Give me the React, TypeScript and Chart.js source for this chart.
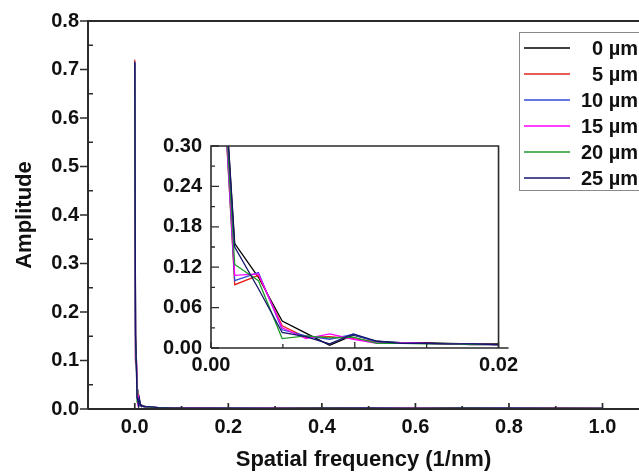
import React, { useEffect, useRef } from "react";
import { Chart, registerables } from "chart.js";
Chart.register(...registerables);

// ---------- data ----------
const FREQ = [0, 0.00165, 0.0033, 0.00495, 0.0066, 0.00825, 0.0099, 0.01155, 0.0132, 0.01485, 0.0165, 0.01815, 0.0198, 0.03, 0.05, 0.08, 0.12, 0.2, 0.3, 0.4, 0.5, 0.6, 0.7, 0.8, 0.9, 1.0];
const AMP_0UM = [0.712, 0.155, 0.105, 0.04, 0.022, 0.004, 0.019, 0.01, 0.008, 0.008, 0.007, 0.006, 0.006, 0.004, 0.003, 0.002, 0.002, 0.001, 0.002, 0.001, 0.002, 0.001, 0.002, 0.001, 0.002, 0.001];
const AMP_5UM = [0.72, 0.094, 0.108, 0.033, 0.016, 0.017, 0.014, 0.009, 0.007, 0.007, 0.006, 0.006, 0.005, 0.004, 0.003, 0.002, 0.002, 0.001, 0.001, 0.002, 0.001, 0.002, 0.001, 0.001, 0.002, 0.001];
const AMP_10UM = [0.715, 0.1, 0.112, 0.027, 0.018, 0.013, 0.02, 0.009, 0.008, 0.007, 0.006, 0.006, 0.005, 0.004, 0.003, 0.002, 0.001, 0.002, 0.001, 0.001, 0.002, 0.001, 0.001, 0.002, 0.001, 0.001];
const AMP_15UM = [0.714, 0.108, 0.11, 0.03, 0.014, 0.021, 0.013, 0.007, 0.008, 0.007, 0.006, 0.005, 0.005, 0.004, 0.003, 0.002, 0.002, 0.001, 0.002, 0.001, 0.001, 0.002, 0.001, 0.001, 0.001, 0.001];
const AMP_20UM = [0.713, 0.124, 0.1, 0.014, 0.018, 0.015, 0.016, 0.007, 0.007, 0.006, 0.006, 0.005, 0.005, 0.004, 0.003, 0.002, 0.001, 0.001, 0.001, 0.002, 0.001, 0.001, 0.002, 0.001, 0.001, 0.001];
const AMP_25UM = [0.716, 0.15, 0.088, 0.023, 0.017, 0.006, 0.021, 0.01, 0.007, 0.007, 0.006, 0.006, 0.005, 0.005, 0.003, 0.002, 0.002, 0.002, 0.001, 0.002, 0.002, 0.001, 0.002, 0.002, 0.001, 0.001];

const SERIES_LABELS = ["0 µm", "5 µm", "10 µm", "15 µm", "20 µm", "25 µm"];
const SERIES_VALUES = [AMP_0UM, AMP_5UM, AMP_10UM, AMP_15UM, AMP_20UM, AMP_25UM];
const SERIES_COLORS = ["#000000", "#e0251b", "#3348d8", "#ff00ff", "#1f9a2a", "#16166e"];

const MAIN_X_TICKS = [0, 0.2, 0.4, 0.6, 0.8, 1.0];
const MAIN_X_MINOR = [0.1, 0.3, 0.5, 0.7, 0.9];
const MAIN_Y_TICKS = [0, 0.1, 0.2, 0.3, 0.4, 0.5, 0.6, 0.7, 0.8];
const MAIN_Y_MINOR = [0.05, 0.15, 0.25, 0.35, 0.45, 0.55, 0.65, 0.75];
const INSET_X_TICKS = [0, 0.01, 0.02];
const INSET_X_MINOR = [0.005, 0.015];
const INSET_Y_TICKS = [0, 0.06, 0.12, 0.18, 0.24, 0.3];
const INSET_Y_MINOR = [0.03, 0.09, 0.15, 0.21, 0.27];

const FONT = "'Liberation Sans', Arial, Helvetica, sans-serif";
const AXIS_COLOR = "#2b2b2b";

function makeDatasets() {
  return SERIES_LABELS.map((label, i) => ({
    label,
    data: FREQ.map((x, k) => ({ x, y: SERIES_VALUES[i][k] })),
    borderColor: SERIES_COLORS[i],
    backgroundColor: SERIES_COLORS[i],
    borderWidth: 1.3,
    pointRadius: 0,
    tension: 0,
    order: i === 5 ? 0 : 6 - i,
  }));
}

type TickSpec = { major: number[]; minor: number[]; majorLen: number; minorLen: number; majorOut: boolean; minorOut: boolean };

function framePlugin(id: string, xs: TickSpec, ys: TickSpec, lw: number, drawRight: boolean) {
  return {
    id,
    beforeDraw(chart: any) {
      const { ctx, chartArea: a } = chart;
      ctx.save();
      ctx.fillStyle = "#ffffff";
      ctx.fillRect(a.left, a.top, a.right - a.left, a.bottom - a.top);
      ctx.restore();
    },
    afterDatasetsDraw(chart: any) {
      const { ctx, chartArea: a, scales } = chart;
      ctx.save();
      ctx.strokeStyle = AXIS_COLOR;
      ctx.lineWidth = lw;
      ctx.beginPath();
      ctx.moveTo(a.left, a.bottom);
      ctx.lineTo(a.left, a.top);
      ctx.lineTo(drawRight ? a.right : a.right + 10, a.top);
      if (drawRight) ctx.lineTo(a.right, a.bottom);
      ctx.moveTo(a.left, a.bottom);
      ctx.lineTo(a.right + 10, a.bottom);
      ctx.stroke();
      ctx.lineWidth = Math.max(1, lw - 0.3);
      ctx.beginPath();
      const xTick = (v: number, len: number, out: boolean) => {
        const p = scales.x.getPixelForValue(v);
        ctx.moveTo(p, a.bottom);
        ctx.lineTo(p, out ? a.bottom + len : a.bottom - len);
      };
      const yTick = (v: number, len: number, out: boolean) => {
        const p = scales.y.getPixelForValue(v);
        ctx.moveTo(a.left, p);
        ctx.lineTo(out ? a.left - len : a.left + len, p);
      };
      xs.major.forEach((v) => xTick(v, xs.majorLen, xs.majorOut));
      xs.minor.forEach((v) => xTick(v, xs.minorLen, xs.minorOut));
      ys.major.forEach((v) => yTick(v, ys.majorLen, ys.majorOut));
      ys.minor.forEach((v) => yTick(v, ys.minorLen, ys.minorOut));
      ctx.stroke();
      ctx.restore();
    },
  };
}

const legendPlugin = {
  id: "customLegend",
  afterDraw(chart: any) {
    const { ctx } = chart;
    ctx.save();
    const left = 519, top = 32, bottom = 190;
    ctx.strokeStyle = "#8a8a8a";
    ctx.lineWidth = 1;
    ctx.strokeRect(left + 0.5, top + 0.5, 200, bottom - top);
    ctx.font = `bold 20px ${FONT}`;
    ctx.textAlign = "right";
    ctx.textBaseline = "middle";
    SERIES_LABELS.forEach((lab, i) => {
      const y = 48 + i * 26;
      ctx.strokeStyle = SERIES_COLORS[i];
      ctx.lineWidth = 1.4;
      ctx.beginPath();
      ctx.moveTo(524, y);
      ctx.lineTo(570, y);
      ctx.stroke();
      ctx.fillStyle = "#111111";
      ctx.fillText(lab, 638, y + 1);
    });
    ctx.restore();
  },
};

function fmt(d: number) {
  return (v: any) => Number(v).toFixed(d);
}

export default function App() {
  const mainRef = useRef<HTMLCanvasElement>(null);
  const insetRef = useRef<HTMLCanvasElement>(null);

  useEffect(() => {
    const tickFont = { family: FONT, size: 20, weight: "bold" as const };
    const titleFont = { family: FONT, size: 22, weight: "bold" as const };

    const main = new Chart(mainRef.current!, {
      type: "line",
      data: { datasets: makeDatasets() as any },
      plugins: [framePlugin("mainFrame",
        { major: MAIN_X_TICKS, minor: MAIN_X_MINOR, majorLen: 6, minorLen: 3, majorOut: false, minorOut: false },
        { major: MAIN_Y_TICKS, minor: MAIN_Y_MINOR, majorLen: 8, minorLen: 5, majorOut: true, minorOut: false }, 2, false), legendPlugin],
      options: {
        responsive: false,
        animation: false,
        devicePixelRatio: 1,
        layout: { padding: { top: 21, left: 0, right: 0, bottom: 0 } },
        plugins: { legend: { display: false }, tooltip: { enabled: false } },
        scales: {
          x: {
            type: "linear",
            min: -0.1,
            max: 1.078,
            grid: { display: false, drawTicks: false },
            border: { display: false },
            afterBuildTicks: (s: any) => { s.ticks = MAIN_X_TICKS.map((v) => ({ value: v })); },
            afterFit: (s: any) => { s.height = 67; },
            ticks: { font: tickFont, color: "#111", padding: 6, autoSkip: false, maxRotation: 0, callback: fmt(1) },
            title: { display: true, text: "Spatial frequency (1/nm)", font: titleFont, color: "#111", padding: { top: 0, bottom: 3 } },
          },
          y: {
            type: "linear",
            min: 0,
            max: 0.8,
            grid: { display: false, drawTicks: false },
            border: { display: false },
            afterBuildTicks: (s: any) => { s.ticks = MAIN_Y_TICKS.map((v) => ({ value: v })); },
            afterFit: (s: any) => { s.width = 88; },
            ticks: { font: tickFont, color: "#111", padding: 9, autoSkip: false, callback: fmt(1) },
            title: { display: true, text: "Amplitude", font: titleFont, color: "#111", padding: { top: 12, bottom: 0 } },
          },
        },
      } as any,
    });

    const inset = new Chart(insetRef.current!, {
      type: "line",
      data: { datasets: makeDatasets() as any },
      plugins: [framePlugin("insetFrame",
        { major: INSET_X_TICKS, minor: INSET_X_MINOR, majorLen: 6, minorLen: 4, majorOut: false, minorOut: false },
        { major: INSET_Y_TICKS, minor: INSET_Y_MINOR, majorLen: 8, minorLen: 4, majorOut: false, minorOut: false }, 1.6, true)],
      options: {
        responsive: false,
        animation: false,
        devicePixelRatio: 1,
        layout: { padding: { top: 16, left: 0, right: 19, bottom: 0 } },
        plugins: { legend: { display: false }, tooltip: { enabled: false } },
        scales: {
          x: {
            type: "linear",
            min: 0,
            max: 0.02,
            grid: { display: false, drawTicks: false },
            border: { display: false },
            afterBuildTicks: (s: any) => { s.ticks = INSET_X_TICKS.map((v) => ({ value: v })); },
            afterFit: (s: any) => { s.height = 37; },
            ticks: { font: tickFont, color: "#111", padding: 5, autoSkip: false, maxRotation: 0, callback: fmt(2) },
          },
          y: {
            type: "linear",
            min: 0,
            max: 0.3,
            grid: { display: false, drawTicks: false },
            border: { display: false },
            afterBuildTicks: (s: any) => { s.ticks = INSET_Y_TICKS.map((v) => ({ value: v })); },
            afterFit: (s: any) => { s.width = 61; },
            ticks: { font: tickFont, color: "#111", padding: 9, autoSkip: false, callback: fmt(2) },
          },
        },
      } as any,
    });

    return () => {
      main.destroy();
      inset.destroy();
    };
  }, []);

  return (
    <div style={{ position: "fixed", left: 0, top: 0, width: 639, height: 476, background: "#fff", overflow: "hidden" }}>
      <canvas ref={mainRef} width={639} height={476} style={{ position: "absolute", left: 0, top: 0, width: 639, height: 476 }} />
      <canvas ref={insetRef} width={373} height={260} style={{ position: "absolute", left: 150, top: 125, width: 373, height: 260 }} />
    </div>
  );
}
